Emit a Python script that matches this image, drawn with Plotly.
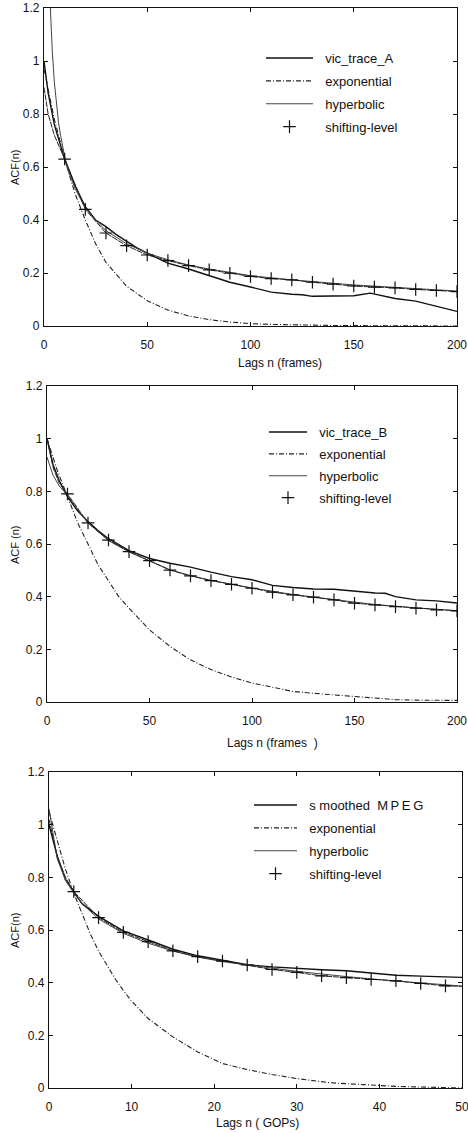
import plotly.graph_objects as go

# ---------------- Panel 1 (vic_trace_A) ----------------
trA_lag = [0, 2, 5, 10, 15, 20, 25, 30, 35, 40, 45, 50, 60, 70, 80, 90, 100, 110, 120, 125,
           130, 140, 150, 158, 165, 170, 180, 190, 200]
trA_acf = [1.0, 0.88, 0.76, 0.63, 0.53, 0.45, 0.40, 0.375, 0.345, 0.32, 0.295, 0.275, 0.237,
           0.215, 0.19, 0.165, 0.147, 0.128, 0.12, 0.118, 0.112, 0.113, 0.114, 0.124, 0.112,
           0.104, 0.094, 0.074, 0.055]
exp1_lag = [0, 5, 10, 15, 20, 25, 30, 40, 50, 60, 70, 80, 90, 100, 110, 120, 140, 160, 180, 200]
exp1_acf = [0.97, 0.78, 0.63, 0.50, 0.40, 0.31, 0.24, 0.15, 0.095, 0.06, 0.038, 0.024, 0.015,
            0.009, 0.006, 0.004, 0.002, 0.001, 0.0005, 0.0]
hyp1_lag = [2.8, 3, 4, 5, 6, 7, 8, 10, 12, 15, 20, 25, 30, 40, 50, 60, 70, 80, 100, 120, 150, 200]
hyp1_acf = [1.25, 1.21, 1.04, 0.92, 0.84, 0.77, 0.72, 0.64, 0.58, 0.52, 0.445, 0.40, 0.36, 0.31,
            0.275, 0.25, 0.23, 0.215, 0.19, 0.174, 0.155, 0.132]
sl1_lag = [0, 2, 5, 10, 20, 30, 40, 50, 60, 70, 80, 90, 100, 110, 120, 130, 140, 150, 160, 170,
           180, 190, 200]
sl1_acf = [0.90, 0.80, 0.72, 0.63, 0.44, 0.351, 0.303, 0.268, 0.247, 0.228, 0.212, 0.199, 0.187,
           0.179, 0.174, 0.165, 0.158, 0.151, 0.147, 0.144, 0.138, 0.134, 0.130]

# ---------------- Panel 2 (vic_trace_B) ----------------
trB_lag = [0, 3, 6, 10, 15, 20, 25, 30, 40, 50, 60, 70, 80, 90, 100, 110, 120, 130, 140, 150,
           160, 165, 170, 180, 190, 200]
trB_acf = [1.0, 0.90, 0.84, 0.78, 0.725, 0.685, 0.65, 0.62, 0.575, 0.545, 0.527, 0.512, 0.493,
           0.476, 0.464, 0.443, 0.435, 0.429, 0.428, 0.42, 0.414, 0.413, 0.40, 0.388, 0.384, 0.376]
exp2_lag = [0, 5, 10, 15, 20, 25, 30, 35, 40, 50, 60, 70, 80, 90, 100, 110, 120, 130, 140, 150,
            160, 170, 180, 190, 200]
exp2_acf = [1.0, 0.88, 0.78, 0.68, 0.60, 0.52, 0.46, 0.40, 0.356, 0.274, 0.211, 0.16, 0.123,
            0.095, 0.072, 0.055, 0.04, 0.033, 0.028, 0.021, 0.015, 0.009, 0.007, 0.006, 0.006]
hyp2_lag = [0, 3, 6, 10, 15, 20, 30, 40, 50, 60, 70, 80, 90, 100, 120, 140, 160, 180, 200]
hyp2_acf = [0.93, 0.86, 0.82, 0.785, 0.73, 0.68, 0.613, 0.57, 0.536, 0.502, 0.48, 0.462, 0.447,
            0.433, 0.408, 0.389, 0.37, 0.357, 0.347]
sl2_lag = [0, 3, 6, 10, 20, 30, 40, 50, 60, 70, 80, 90, 100, 110, 120, 130, 140, 150, 160, 170,
           180, 190, 200]
sl2_acf = [1.0, 0.89, 0.83, 0.79, 0.68, 0.615, 0.571, 0.537, 0.501, 0.479, 0.461, 0.447, 0.432,
           0.417, 0.407, 0.398, 0.388, 0.375, 0.369, 0.362, 0.356, 0.35, 0.346]

# ---------------- Panel 3 (smoothed MPEG) ----------------
mp_lag = [0, 1, 2, 3, 4, 6, 9, 12, 15, 18, 21, 24, 27, 30, 33, 36, 39, 42, 45, 48, 50]
mp_acf = [1.0, 0.88, 0.79, 0.745, 0.70, 0.652, 0.597, 0.562, 0.527, 0.502, 0.484, 0.468, 0.460,
          0.454, 0.449, 0.445, 0.436, 0.428, 0.425, 0.423, 0.42]
exp3_lag = [0, 1, 2, 3, 4, 5, 6, 7, 8, 9, 10, 12, 15, 18, 21, 24, 27, 30, 34, 38, 42, 46, 50]
exp3_acf = [1.05, 0.935, 0.83, 0.74, 0.66, 0.585, 0.52, 0.465, 0.415, 0.37, 0.33, 0.264, 0.194,
            0.137, 0.093, 0.07, 0.051, 0.036, 0.02, 0.013, 0.006, 0.003, 0.0]
hyp3_lag = [0, 1, 2, 3, 4, 6, 9, 12, 15, 18, 21, 24, 30, 36, 42, 48, 50]
hyp3_acf = [1.06, 0.87, 0.79, 0.74, 0.70, 0.642, 0.587, 0.55, 0.52, 0.497, 0.48, 0.467, 0.443,
            0.423, 0.406, 0.392, 0.387]
sl3_lag = [0, 1, 2, 3, 6, 9, 12, 15, 18, 21, 24, 27, 30, 33, 36, 39, 42, 45, 48, 50]
sl3_acf = [1.02, 0.88, 0.80, 0.746, 0.647, 0.591, 0.556, 0.521, 0.499, 0.482, 0.467, 0.450,
           0.439, 0.426, 0.419, 0.412, 0.407, 0.397, 0.388, 0.386]

NB = "\u00a0"
panels = [
    dict(name="vic_trace_A", tr=(trA_lag, trA_acf), ex=(exp1_lag, exp1_acf), hy=(hyp1_lag, hyp1_acf),
         sl=(sl1_lag, sl1_acf), step=10, xmax=200, dx=50,
         xdom=(44, 457), ydom=(8, 326), xtitle="Lags n (frames)", xt_x=280, xt_y=363,
         ytitle="ACF(n)", leg_x=261, leg_y=43, iw=47, gap=3, pad=2),
    dict(name="vic_trace_B", tr=(trB_lag, trB_acf), ex=(exp2_lag, exp2_acf), hy=(hyp2_lag, hyp2_acf),
         sl=(sl2_lag, sl2_acf), step=10, xmax=200, dx=50,
         xdom=(47, 457), ydom=(386, 702), xtitle="Lags n (frames" + NB * 2 + ")", xt_x=272, xt_y=743,
         ytitle="ACF (n)", leg_x=264, leg_y=417, iw=38, gap=2, pad=2),
    dict(name="s moothed" + NB * 2 + "M\u2009P\u2009E\u2009G", tr=(mp_lag, mp_acf),
         ex=(exp3_lag, exp3_acf), hy=(hyp3_lag, hyp3_acf),
         sl=(sl3_lag, sl3_acf), step=3, xmax=50, dx=10,
         xdom=(49, 462), ydom=(772, 1088), xtitle="Lags n (" + NB + "GOPs)", xt_x=257, xt_y=1123,
         ytitle="ACF(n)", leg_x=249, leg_y=790, iw=43, gap=3, pad=2),
]

W, H = 468, 1133
FONT = "Liberation Sans, Arial, sans-serif"
fig = go.Figure()
annotations = []

for i, p in enumerate(panels, start=1):
    xa = "x" if i == 1 else f"x{i}"
    ya = "y" if i == 1 else f"y{i}"
    lg = "legend" if i == 1 else f"legend{i}"
    common = dict(xaxis=xa, yaxis=ya, legend=lg)
    pre = NB * p["pad"]
    fig.add_trace(go.Scatter(x=p["tr"][0], y=p["tr"][1], mode="lines", name=pre + p["name"],
                             line=dict(color="#111", width=1.4), legendgroup=f"a{i}", **common))
    fig.add_trace(go.Scatter(x=p["ex"][0], y=p["ex"][1], mode="lines", name=pre + "exponential",
                             line=dict(color="#222", width=1.1, dash="5px,2px,1px,2px"),
                             legendgroup=f"b{i}", **common))
    fig.add_trace(go.Scatter(x=p["hy"][0], y=p["hy"][1], mode="lines", name=pre + "hyperbolic",
                             line=dict(color="#444", width=1.0), legendgroup=f"c{i}", **common))
    fig.add_trace(go.Scatter(x=p["sl"][0], y=p["sl"][1], mode="lines", showlegend=False,
                             line=dict(color="#222", width=1.0, dash="6px,1px"),
                             legendgroup=f"d{i}", **common))
    mx = [x for x in p["sl"][0] if x > 0 and x % p["step"] == 0]
    my = [y for x, y in zip(*p["sl"]) if x > 0 and x % p["step"] == 0]
    fig.add_trace(go.Scatter(x=mx, y=my, mode="markers", name=pre + "shifting-level",
                             marker=dict(symbol="cross-thin", size=9,
                                         line=dict(color="#111", width=1.2)),
                             legendgroup=f"d{i}", **common))

    xd = [p["xdom"][0] / W, p["xdom"][1] / W]
    yd = [1 - p["ydom"][1] / H, 1 - p["ydom"][0] / H]
    axis_style = dict(showline=True, linecolor="#111", linewidth=1.2, mirror="ticks",
                      ticks="inside", ticklen=4, tickcolor="#111", showgrid=False,
                      zeroline=False, automargin=False, ticklabeloverflow="allow",
                      tickfont=dict(family=FONT, size=12, color="#111"))
    fig.update_layout(**{
        ("xaxis" if i == 1 else f"xaxis{i}"): dict(
            domain=xd, anchor=ya, range=[0, p["xmax"]],
            tickvals=list(range(0, p["xmax"] + 1, p["dx"])), ticklabelstandoff=7,
            **axis_style),
        ("yaxis" if i == 1 else f"yaxis{i}"): dict(
            domain=yd, anchor=xa, range=[0, 1.2],
            tickvals=[0, 0.2, 0.4, 0.6, 0.8, 1.0, 1.2],
            ticktext=["0", "0.2", "0.4", "0.6", "0.8", "1", "1.2"], ticklabelstandoff=1,
            **axis_style),
        lg: dict(x=p["leg_x"] / W, y=1 - p["leg_y"] / H, xanchor="left", yanchor="top",
                 bgcolor="rgba(0,0,0,0)", borderwidth=0, traceorder="grouped",
                 tracegroupgap=p["gap"], itemwidth=p["iw"],
                 font=dict(family=FONT, size=13, color="#111")),
    })
    annotations.append(dict(text=p["xtitle"], x=p["xt_x"] / W, y=1 - p["xt_y"] / H,
                            xref="paper", yref="paper", showarrow=False,
                            xanchor="center", yanchor="middle",
                            font=dict(family=FONT, size=12, color="#111")))
    annotations.append(dict(text=p["ytitle"], x=15 / W,
                            y=1 - ((p["ydom"][0] + p["ydom"][1]) / 2) / H,
                            xref="paper", yref="paper", showarrow=False, textangle=-90,
                            xanchor="center", yanchor="middle",
                            font=dict(family=FONT, size=11, color="#111")))

fig.update_layout(width=W, height=H, margin=dict(l=0, r=0, t=0, b=0),
                  paper_bgcolor="white", plot_bgcolor="white",
                  annotations=annotations, showlegend=True)
fig.write_html("out.html")
